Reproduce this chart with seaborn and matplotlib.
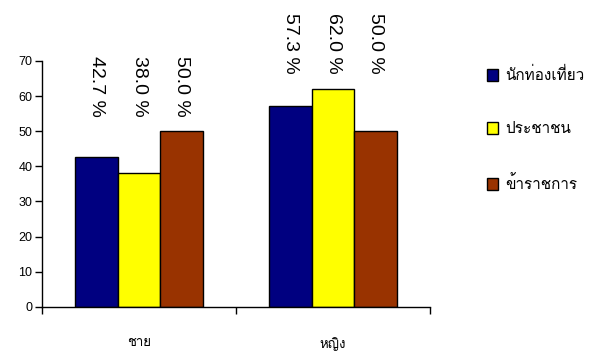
import matplotlib
matplotlib.use("Agg")
import matplotlib.pyplot as plt
import matplotlib.font_manager as fm
from matplotlib.ft2font import FT2Font
from matplotlib.patches import Patch
import seaborn as sns
import pandas as pd

categories = ["ชาย", "หญิง"]
series = ["นักท่องเที่ยว", "ประชาชน", "ข้าราชการ"]
tourist = [42.7, 57.3]
public = [38.0, 62.0]
officials = [50.0, 50.0]
colors = ["#000080", "#FFFF00", "#993300"]

# find a font with Thai glyphs
thai_font = None
for f in fm.fontManager.ttflist:
    try:
        ft = FT2Font(f.fname)
        if ft.get_char_index(ord("น")) and ft.get_char_index(ord("ช")):
            thai_font = f.name
            break
    except Exception:
        pass

sns.set_theme(style="white")
fams = ["Liberation Sans", "DejaVu Sans"]
if thai_font:
    fams = ["Liberation Sans", thai_font, "DejaVu Sans"]
plt.rcParams["font.family"] = fams
plt.rcParams["text.color"] = "black"
plt.rcParams["xtick.color"] = "black"
plt.rcParams["ytick.color"] = "black"

rows = []
for i, c in enumerate(categories):
    for s, vals in zip(series, [tourist, public, officials]):
        rows.append({"cat": c, "series": s, "value": vals[i]})
df = pd.DataFrame(rows)

fig = plt.figure(figsize=(5.97, 3.52), dpi=100)
ax = fig.add_axes([0.0704, 0.128, 0.65, 0.699])
sns.barplot(data=df, x="cat", y="value", hue="series", order=categories,
            hue_order=series, palette=colors, width=0.66, gap=0,
            edgecolor="black", linewidth=1, ax=ax, legend=False, saturation=1)

ax.set_ylim(0, 70)
ax.set_xlim(-0.5, 1.5)
ax.set_yticks(range(0, 71, 10))
ax.tick_params(axis="y", labelsize=9, length=5, width=1, color="black",
               labelcolor="black", direction="out", left=True, pad=2)
ax.set_xticks([-0.5, 0.5, 1.5])
ax.set_xticklabels(["", "", ""])
ax.tick_params(axis="x", which="major", length=5, width=1, color="black",
               direction="out", bottom=True)
ax.set_xticks([0, 1], minor=True)
ax.set_xticklabels(categories, minor=True, fontsize=9.5)
ax.tick_params(axis="x", which="minor", length=0, pad=22, labelcolor="black")
ax.set_xlabel("")
ax.set_ylabel("")
for sp in ["top", "right"]:
    ax.spines[sp].set_visible(False)
for sp in ["left", "bottom"]:
    ax.spines[sp].set_color("black")
    ax.spines[sp].set_linewidth(1)

# value labels, rotated, aligned per group
for cont in ax.containers:
    for bar in cont:
        h = bar.get_height()
        xc = bar.get_x() + bar.get_width() / 2
        gi = int(round(xc))
        top = max(tourist[gi], public[gi], officials[gi]) + 21.5
        ax.text(xc, top, f"{h:.1f} %", rotation=270, ha="center", va="top",
                fontsize=14, clip_on=False, color="black")

handles = [Patch(facecolor=c, edgecolor="black", linewidth=1) for c in colors]
ax.legend(handles, series, loc="upper left", bbox_to_anchor=(1.11, 1.03),
          frameon=False, fontsize=11, labelspacing=2.55, handlelength=0.75,
          handleheight=0.75, handletextpad=0.45)

fig.savefig("out.png", dpi=100)
